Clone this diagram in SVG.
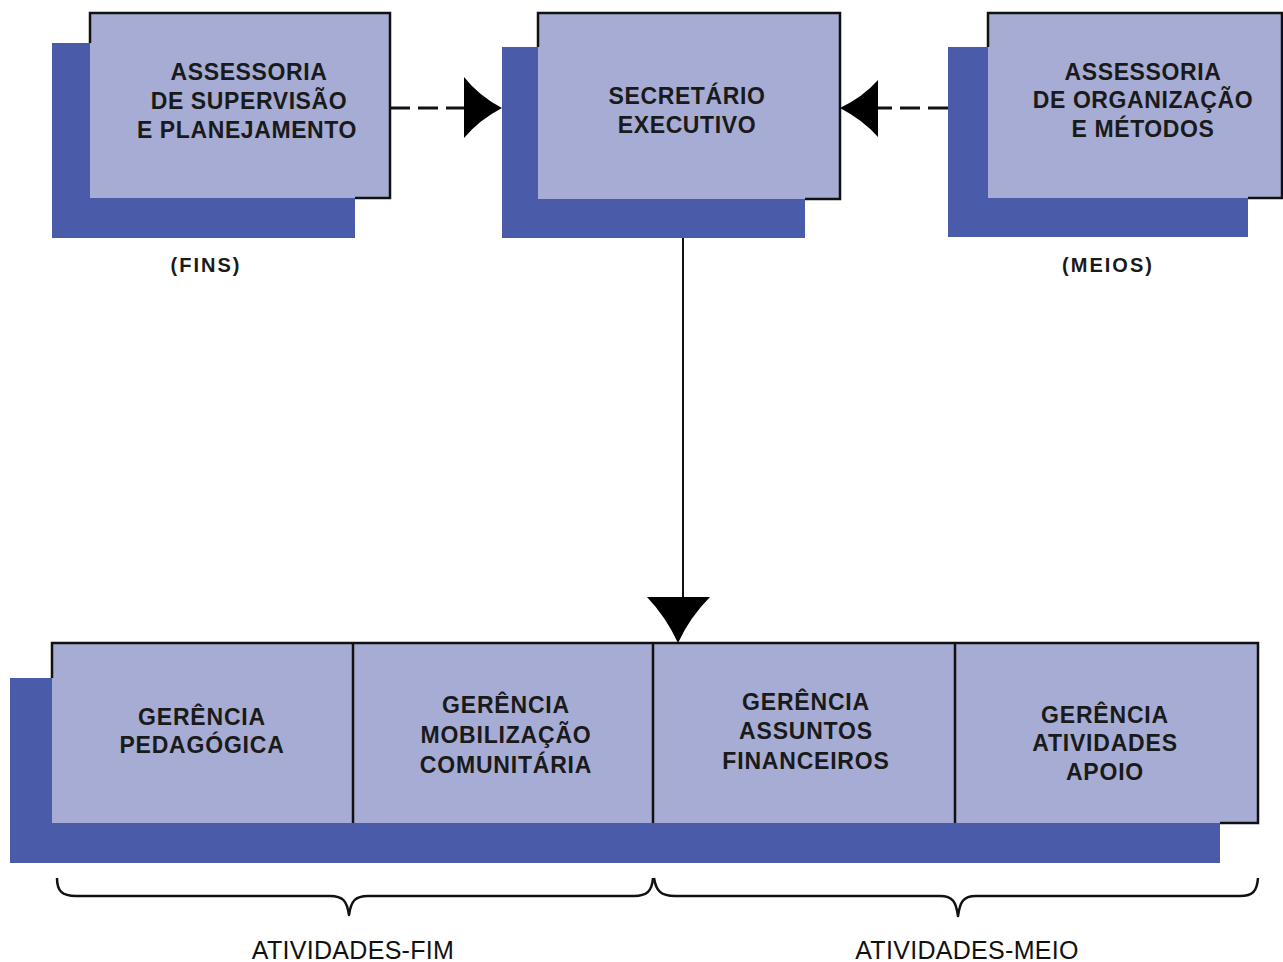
<svg xmlns="http://www.w3.org/2000/svg" width="1283" height="962" viewBox="0 0 1283 962">
<style>
.shadow{fill:#4a5ba9}
.front{fill:#a6acd3}
.border{fill:none;stroke:#111;stroke-width:2.5;stroke-linejoin:miter}
.t{font-family:"Liberation Sans",Arial,sans-serif;font-weight:bold;font-size:23px;fill:#1a1a1a;text-anchor:middle;letter-spacing:0.6px}
.tb{font-family:"Liberation Sans",Arial,sans-serif;font-weight:bold;font-size:23px;fill:#1a1a1a;text-anchor:middle;letter-spacing:0.8px}
.lab{font-family:"Liberation Sans",Arial,sans-serif;font-weight:bold;font-size:20px;fill:#1a1a1a;text-anchor:middle;letter-spacing:2px}
.cap{font-family:"Liberation Sans",Arial,sans-serif;font-size:25px;fill:#111;text-anchor:middle;letter-spacing:0.3px}
.dash{fill:none;stroke:#111;stroke-width:3;stroke-dasharray:20 8}
.line{fill:none;stroke:#111;stroke-width:2}
.brace{fill:none;stroke:#111;stroke-width:2.5;stroke-linejoin:round}
.head{fill:#000}
</style>
<rect width="1283" height="962" fill="#ffffff"/>

<g id="assessoria-supervisao">
  <rect class="shadow" x="52" y="43" width="303" height="195"/>
  <rect class="front" x="90" y="13" width="300" height="185"/>
  <path class="border" d="M90,43 V13 H390 V198 H355"/>
  <text class="t" x="249" y="80">ASSESSORIA</text>
  <text class="t" x="249" y="109">DE SUPERVISÃO</text>
  <text class="t" x="247" y="138">E PLANEJAMENTO</text>
</g>

<g id="secretario-executivo">
  <rect class="shadow" x="502" y="47" width="303" height="191"/>
  <rect class="front" x="538" y="13" width="302" height="186"/>
  <path class="border" d="M538,47 V13 H840 V199 H805"/>
  <text class="t" x="687" y="104">SECRETÁRIO</text>
  <text class="t" x="687" y="133">EXECUTIVO</text>
</g>

<g id="assessoria-organizacao">
  <rect class="shadow" x="948" y="47" width="300" height="190"/>
  <rect class="front" x="988" y="13" width="294" height="185"/>
  <path class="border" d="M988,47 V13 H1282 V198 H1248"/>
  <text class="t" x="1143" y="80">ASSESSORIA</text>
  <text class="t" x="1143" y="108">DE ORGANIZAÇÃO</text>
  <text class="t" x="1143" y="137">E MÉTODOS</text>
</g>

<g id="label-fins"><text class="lab" x="206" y="272">(FINS)</text></g>
<g id="label-meios"><text class="lab" x="1108" y="272">(MEIOS)</text></g>

<g id="gerencias">
  <rect class="shadow" x="10" y="678" width="1210" height="185"/>
  <rect class="front" x="52" y="643" width="1206" height="180"/>
  <path class="border" d="M52,678 V643 H1258 V823 H1220"/>
  <g id="gerencia-pedagogica">
    <line class="border" x1="353" y1="643" x2="353" y2="823"/>
    <text class="tb" x="202" y="725">GERÊNCIA</text>
    <text class="tb" x="202" y="753">PEDAGÓGICA</text>
  </g>
  <g id="gerencia-mobilizacao">
    <line class="border" x1="653" y1="643" x2="653" y2="823"/>
    <text class="tb" x="506" y="713">GERÊNCIA</text>
    <text class="tb" x="506" y="743">MOBILIZAÇÃO</text>
    <text class="tb" x="506" y="773">COMUNITÁRIA</text>
  </g>
  <g id="gerencia-financeiros">
    <line class="border" x1="955" y1="643" x2="955" y2="823"/>
    <text class="tb" x="806" y="710">GERÊNCIA</text>
    <text class="tb" x="806" y="739">ASSUNTOS</text>
    <text class="tb" x="806" y="769">FINANCEIROS</text>
  </g>
  <g id="gerencia-apoio">
    <text class="tb" x="1105" y="723">GERÊNCIA</text>
    <text class="tb" x="1105" y="751">ATIVIDADES</text>
    <text class="tb" x="1105" y="780">APOIO</text>
  </g>
</g>

<g id="connectors">
  <line class="dash" x1="390" y1="108" x2="466" y2="108"/>
  <path class="head" d="M464,77 Q479,96 502,108 Q479,120 464,138 Z"/>
  <line class="dash" x1="948" y1="108" x2="876" y2="108"/>
  <path class="head" d="M878,80 Q863,97 840,108 Q863,120 878,137 Z"/>
  <line class="line" x1="683" y1="238" x2="683" y2="598"/>
  <path class="head" d="M647,597 L710,597 Q690,617 678,643 Q666,617 647,597 Z"/>
</g>

<g id="braces">
  <path class="brace" d="M57,878 C57,891 62,896 76,896 L330,896 C343,896 347,901 349,915 C351,901 355,896 368,896 L634,896 C647,896 652,891 653,878"/>
  <path class="brace" d="M654,878 C656,891 661,896 675,896 L940,896 C953,896 956,902 958,916 C960,902 963,896 976,896 L1240,896 C1253,896 1257,891 1258,878"/>
</g>

<g id="label-fim"><text class="cap" x="353" y="959">ATIVIDADES-FIM</text></g>
<g id="label-meio"><text class="cap" x="967" y="959">ATIVIDADES-MEIO</text></g>
</svg>
